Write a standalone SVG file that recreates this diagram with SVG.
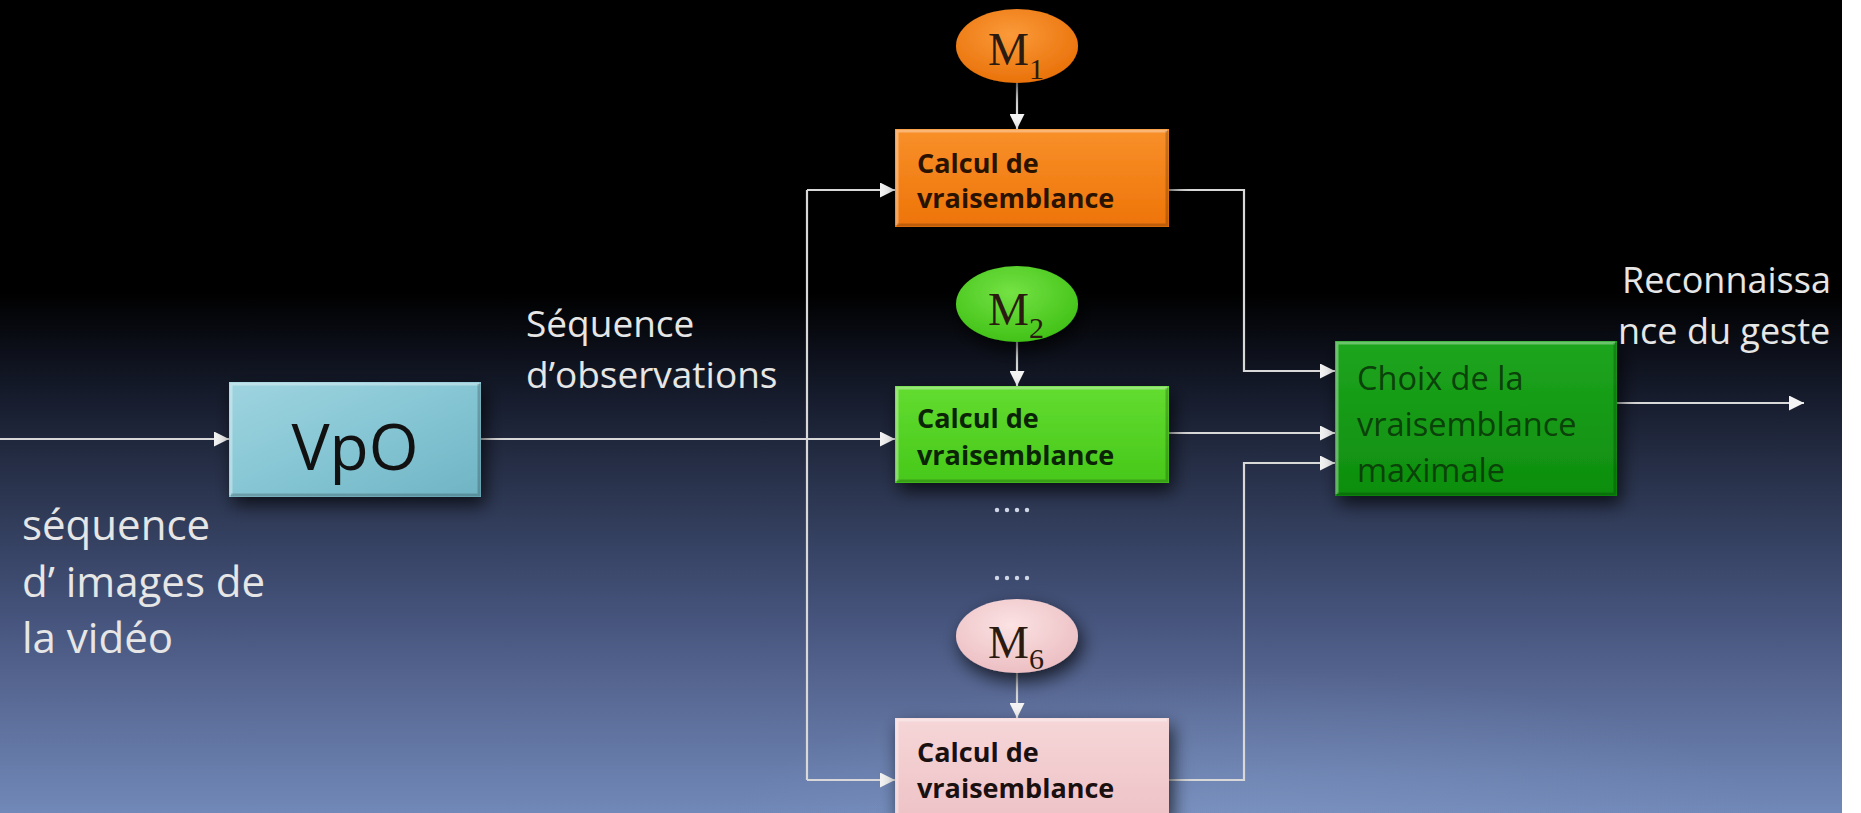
<svg xmlns="http://www.w3.org/2000/svg" width="1861" height="813" viewBox="0 0 1861 813">
<defs>
<linearGradient id="bg" x1="0" y1="0" x2="0" y2="1">
<stop offset="0" stop-color="#000000"/>
<stop offset="0.36" stop-color="#000000"/>
<stop offset="0.47" stop-color="#131827"/>
<stop offset="0.6" stop-color="#2a344e"/>
<stop offset="0.75" stop-color="#44527a"/>
<stop offset="0.87" stop-color="#5b6c98"/>
<stop offset="1" stop-color="#7189b8"/>
</linearGradient>
<radialGradient id="glow" cx="0.5" cy="0.5" r="0.5">
<stop offset="0" stop-color="#8fa6d2" stop-opacity="0.3"/>
<stop offset="1" stop-color="#8fa6d2" stop-opacity="0"/>
</radialGradient>
<linearGradient id="gOrange" x1="0" y1="0" x2="0" y2="1">
<stop offset="0" stop-color="#f8902a"/>
<stop offset="1" stop-color="#ee7408"/>
</linearGradient>
<linearGradient id="gGreen" x1="0" y1="0" x2="0" y2="1">
<stop offset="0" stop-color="#62dc30"/>
<stop offset="1" stop-color="#47c81a"/>
</linearGradient>
<linearGradient id="gPink" x1="0" y1="0" x2="0" y2="1">
<stop offset="0" stop-color="#f6d6d8"/>
<stop offset="1" stop-color="#eec3c7"/>
</linearGradient>
<linearGradient id="gTeal" x1="0" y1="0" x2="1" y2="1">
<stop offset="0" stop-color="#9fd4e0"/>
<stop offset="0.5" stop-color="#86c6d4"/>
<stop offset="1" stop-color="#6fb4c4"/>
</linearGradient>
<linearGradient id="gDark" x1="0" y1="0" x2="0" y2="1">
<stop offset="0" stop-color="#1ea51e"/>
<stop offset="1" stop-color="#0e8e0e"/>
</linearGradient>
<radialGradient id="eOrange" cx="0.45" cy="0.35" r="0.65">
<stop offset="0" stop-color="#fb9a3a"/>
<stop offset="1" stop-color="#e9720a"/>
</radialGradient>
<radialGradient id="eGreen" cx="0.45" cy="0.35" r="0.65">
<stop offset="0" stop-color="#74e244"/>
<stop offset="1" stop-color="#42c218"/>
</radialGradient>
<radialGradient id="ePink" cx="0.45" cy="0.35" r="0.65">
<stop offset="0" stop-color="#fbe2e3"/>
<stop offset="1" stop-color="#ecbfc3"/>
</radialGradient>
<filter id="shadow" x="-20%" y="-20%" width="150%" height="160%">
<feDropShadow dx="4" dy="8" stdDeviation="9" flood-color="#000000" flood-opacity="0.7"/>
</filter>
<marker id="arrow" viewBox="0 0 14 14" refX="14" refY="7" markerWidth="16" markerHeight="15" markerUnits="userSpaceOnUse" orient="auto">
<path d="M0,0 L14,7 L0,14 z" fill="#f4f4f4"/>
</marker>
</defs>
<style>
.conn{fill:none;stroke:#d8d8d8;stroke-width:2.2;}
.lbl{font-family:"Open Sans","Noto Sans",sans-serif;fill:#e6e6e6;}
.calc{font-family:"Open Sans","Noto Sans",sans-serif;font-weight:700;font-size:27px;}
.m{font-family:"Liberation Serif","Times New Roman",serif;fill:#2a1a10;}
.bevel{fill:none;stroke:#ffffff;stroke-opacity:0.35;stroke-width:3;}
.bevdark{fill:none;stroke:#000000;stroke-opacity:0.2;stroke-width:3;}
.dot{fill:#cfd6e6;}
</style>
<rect x="0" y="0" width="1861" height="813" fill="url(#bg)"/>
<ellipse cx="1250" cy="830" rx="520" ry="160" fill="url(#glow)"/>
<rect x="1842" y="0" width="19" height="813" fill="#ffffff"/>

<g id="connectors">
<path class="conn" d="M0,439 H229" marker-end="url(#arrow)"/>
<path class="conn" d="M481,439 H895" marker-end="url(#arrow)"/>
<path class="conn" d="M807,190 V780"/>
<path class="conn" d="M807,190 H895" marker-end="url(#arrow)"/>
<path class="conn" d="M807,780 H895" marker-end="url(#arrow)"/>
<path class="conn" d="M1017,83 V129" marker-end="url(#arrow)"/>
<path class="conn" d="M1017,342 V386" marker-end="url(#arrow)"/>
<path class="conn" d="M1017,673 V718" marker-end="url(#arrow)"/>
<path class="conn" d="M1169,190 H1244 V371 H1335" marker-end="url(#arrow)"/>
<path class="conn" d="M1169,433 H1335" marker-end="url(#arrow)"/>
<path class="conn" d="M1169,780 H1244 V463 H1335" marker-end="url(#arrow)"/>
<path class="conn" d="M1617,403 H1804" marker-end="url(#arrow)"/>
</g>

<g id="vpo">
<rect x="229" y="382" width="252" height="115" fill="url(#gTeal)" filter="url(#shadow)"/>
<path class="bevel" d="M231,495 V384 H479"/>
<path class="bevdark" d="M231,495 H479 V384"/>
<text x="355" y="470" text-anchor="middle" font-family="'Open Sans','Noto Sans',sans-serif" font-size="64" fill="#111111">VpO</text>
</g>

<g id="label-input">
<text class="lbl" font-size="42"><tspan x="22" y="540">séquence</tspan><tspan x="22" y="597">d’ images de</tspan><tspan x="22" y="653">la vidéo</tspan></text>
</g>

<g id="label-obs">
<text class="lbl" font-size="37"><tspan x="526" y="337">Séquence</tspan><tspan x="526" y="388">d’observations</tspan></text>
</g>

<g id="m1">
<ellipse cx="1017" cy="46" rx="61" ry="37" fill="url(#eOrange)" filter="url(#shadow)"/>
<text class="m" x="988" y="65" font-size="46">M<tspan font-size="30" dy="14">1</tspan></text>
</g>
<g id="calc1">
<rect x="895" y="129" width="274" height="98" fill="url(#gOrange)" filter="url(#shadow)"/>
<path class="bevel" d="M897,225 V131 H1167"/>
<path class="bevdark" d="M897,225 H1167 V131"/>
<text class="calc" fill="#2a1200"><tspan x="917" y="173">Calcul de</tspan><tspan x="917" y="208">vraisemblance</tspan></text>
</g>

<g id="m2">
<ellipse cx="1017" cy="304" rx="61" ry="38" fill="url(#eGreen)" filter="url(#shadow)"/>
<text class="m" x="988" y="325" font-size="46" fill="#0e2a06">M<tspan font-size="30" dy="13">2</tspan></text>
</g>
<g id="calc2">
<rect x="895" y="386" width="274" height="97" fill="url(#gGreen)" filter="url(#shadow)"/>
<path class="bevel" d="M897,481 V388 H1167"/>
<path class="bevdark" d="M897,481 H1167 V388"/>
<text class="calc" fill="#0c2406"><tspan x="917" y="428">Calcul de</tspan><tspan x="917" y="465">vraisemblance</tspan></text>
</g>

<g id="dots">
<circle class="dot" cx="997" cy="510" r="2.2"/>
<circle class="dot" cx="1007" cy="510" r="2.2"/>
<circle class="dot" cx="1017" cy="510" r="2.2"/>
<circle class="dot" cx="1027" cy="510" r="2.2"/>
<circle class="dot" cx="997" cy="578" r="2.2"/>
<circle class="dot" cx="1007" cy="578" r="2.2"/>
<circle class="dot" cx="1017" cy="578" r="2.2"/>
<circle class="dot" cx="1027" cy="578" r="2.2"/>
</g>

<g id="m6">
<ellipse cx="1017" cy="636" rx="61" ry="37" fill="url(#ePink)" filter="url(#shadow)"/>
<text class="m" x="988" y="658" font-size="46" fill="#1a1010">M<tspan font-size="30" dy="11">6</tspan></text>
</g>
<g id="calc6">
<rect x="895" y="718" width="274" height="98" fill="url(#gPink)" filter="url(#shadow)"/>
<path class="bevel" d="M897,816 V720 H1167"/>
<text class="calc" fill="#1a1010"><tspan x="917" y="762">Calcul de</tspan><tspan x="917" y="798">vraisemblance</tspan></text>
</g>

<g id="choix">
<rect x="1335" y="341" width="282" height="155" fill="url(#gDark)" filter="url(#shadow)"/>
<path class="bevel" d="M1337,494 V343 H1615"/>
<path class="bevdark" d="M1337,494 H1615 V343"/>
<text font-family="'Open Sans','Noto Sans',sans-serif" font-size="32.5" fill="#0a420a"><tspan x="1357" y="390">Choix de la</tspan><tspan x="1357" y="436">vraisemblance</tspan><tspan x="1357" y="482">maximale</tspan></text>
</g>

<g id="label-out">
<text class="lbl" font-size="36" x="1622" y="293">Reconnaissa</text>
<text class="lbl" font-size="36" x="1618" y="344">nce du geste</text>
</g>
</svg>
